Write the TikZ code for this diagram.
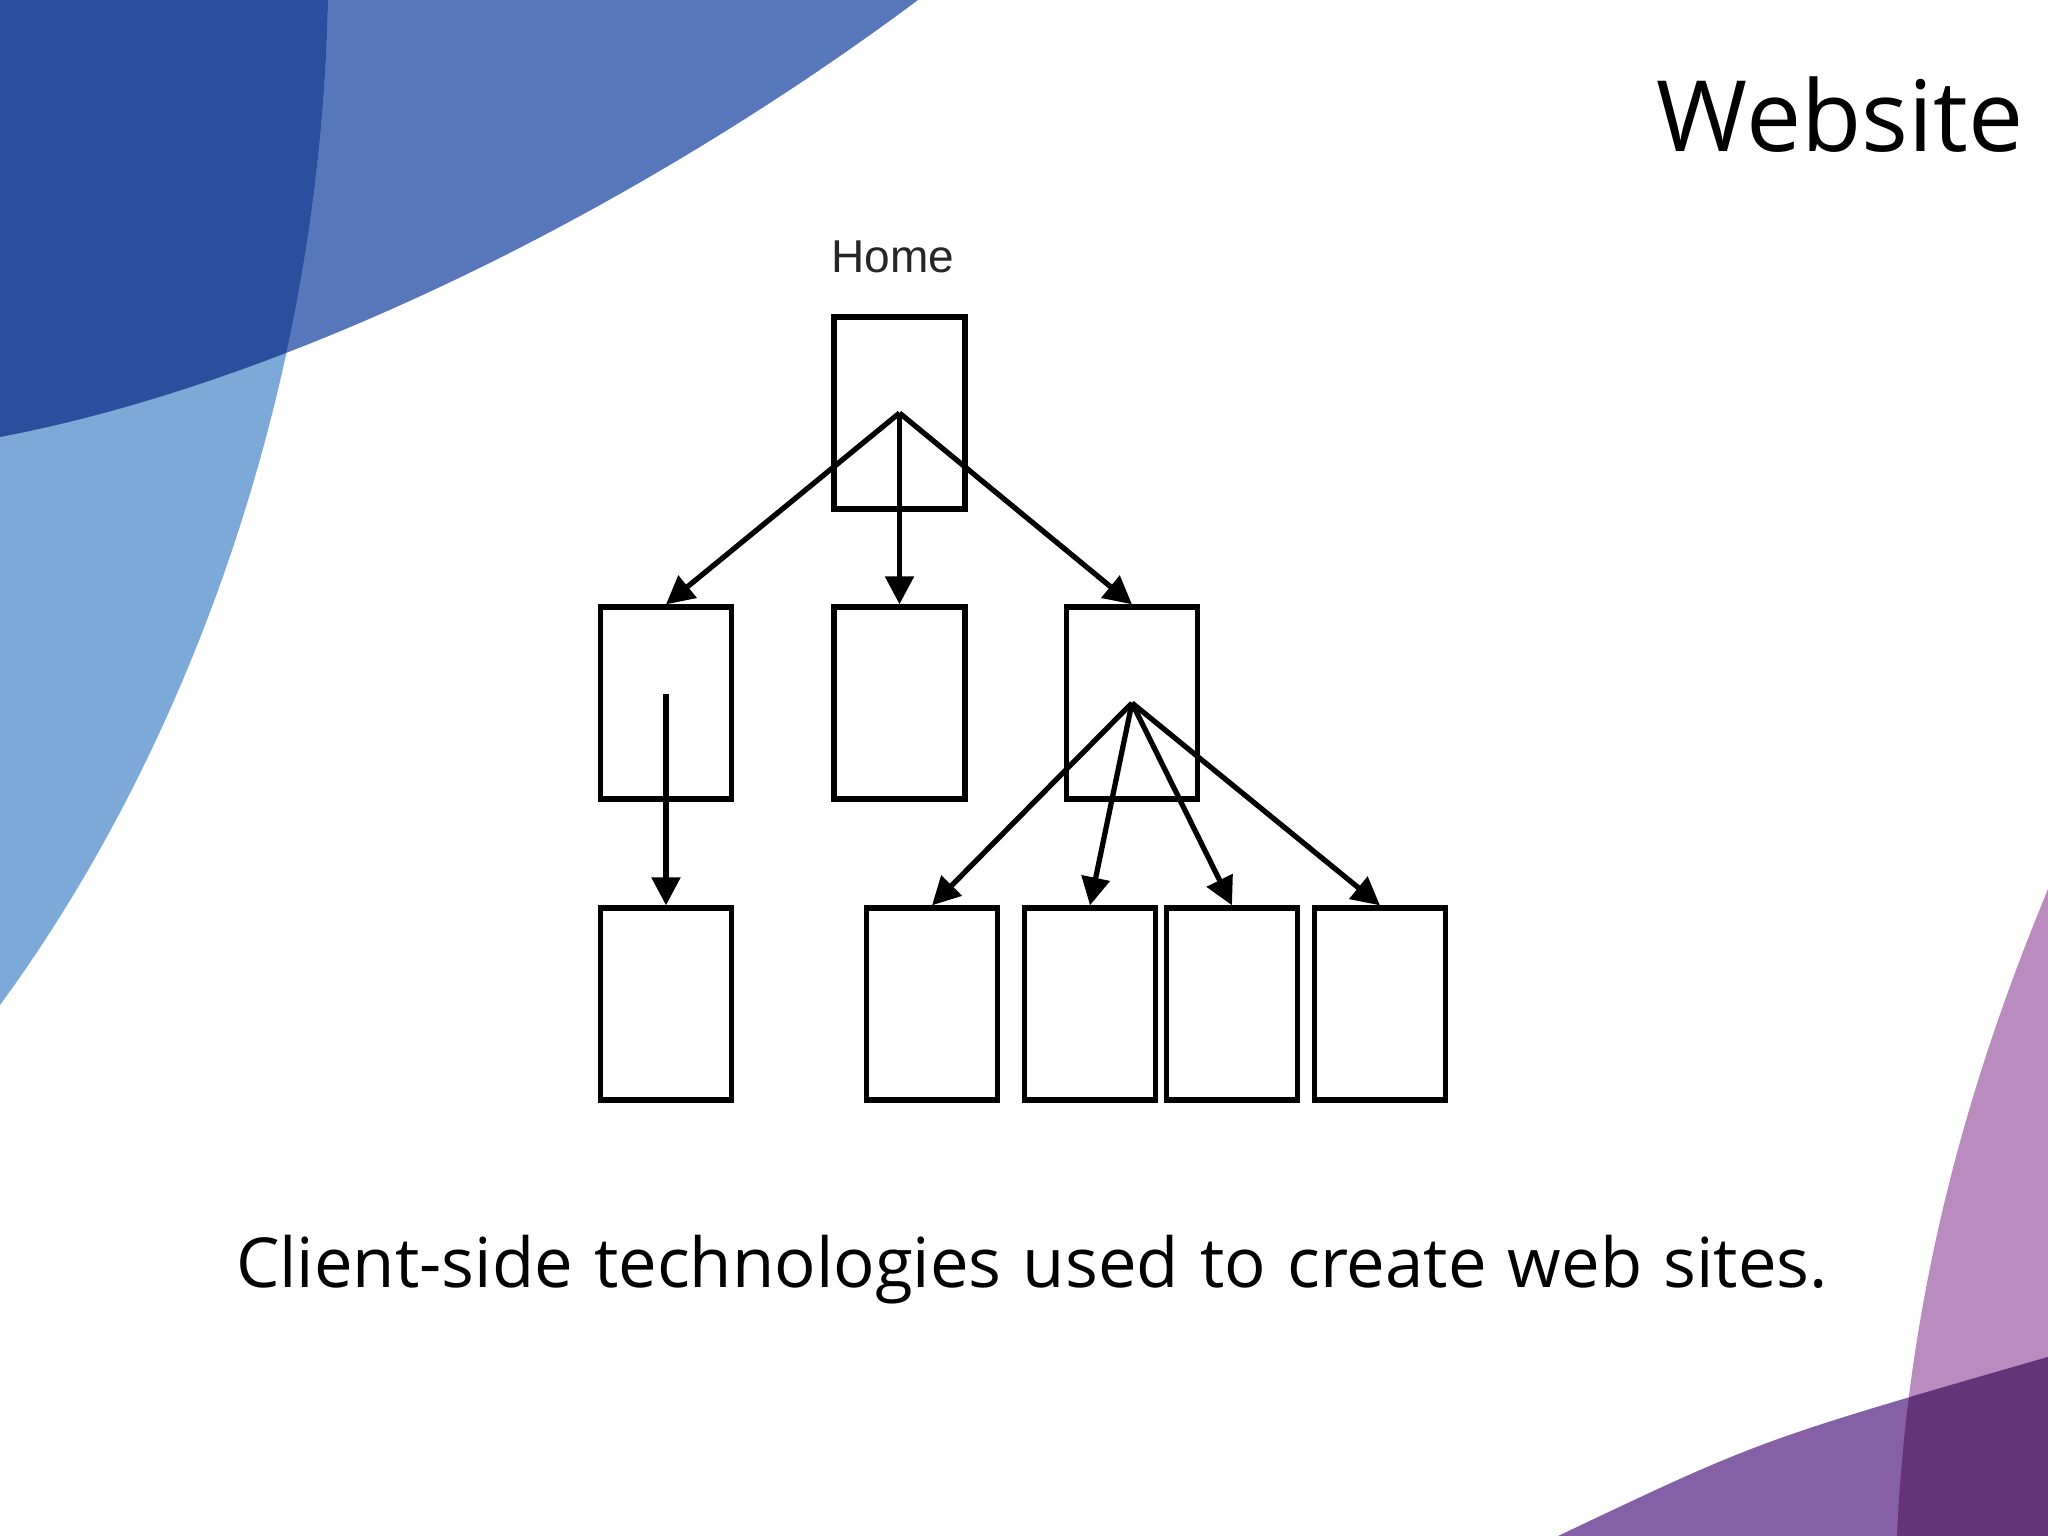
\documentclass[tikz,border=0pt]{standalone}
\usepackage{fontspec}
\setmainfont{Open Sans}
\newfontfamily\homefont{Liberation Sans}
\usetikzlibrary{arrows.meta, calc}
\definecolor{blueDark}{HTML}{2A4F9C}
\definecolor{blueMid}{HTML}{5877BA}
\definecolor{blueLight}{HTML}{7DA9D9}
\definecolor{purpleLight}{HTML}{BA8BBF}
\definecolor{purpleMid}{HTML}{8560A6}
\definecolor{purpleDark}{HTML}{623579}
\tikzset{page/.style = {draw, line width=1.5pt, minimum width=1.31cm, minimum height=1.92cm, inner sep=0pt}}
\tikzset{link/.style = {line width=1.5pt, -{Triangle[length=0.28cm, width=0.28cm]}}}

\begin{document}
\begin{tikzpicture}
	\def\rowA{-4.13}
	\def\rowB{-7.03}
	\def\rowC{-10.04}
	\def\bandTop{(0,0) -- (9.18,0) .. controls (6.5,-2) and (3,-3.8) .. (0,-4.37) -- cycle}
	\def\bandLeft{(0,0) -- (3.28,0) .. controls (3.2,-4) and (1.8,-7.6) .. (0,-10.05) -- cycle}
	\def\bandRight{(20.48,-8.89) .. controls (19.9,-10.3) and (19.1,-12.5) .. (18.97,-15.36) -- (20.48,-15.36) -- cycle}
	\def\bandBottom{(15.58,-15.36) .. controls (17.6,-14.4) .. (20.48,-13.57) -- (20.48,-15.36) -- cycle}
	
	\useasboundingbox (0,0) rectangle (20.48,-15.36);
	
	\fill[blueMid] \bandTop;
	\fill[blueLight] \bandLeft;
	\begin{scope}
		\clip \bandTop;
		\fill[blueDark] \bandLeft;
	\end{scope}
	\fill[purpleLight] \bandRight;
	\fill[purpleMid] \bandBottom;
	\begin{scope}
		\clip \bandRight;
		\fill[purpleDark] \bandBottom;
	\end{scope}
	
	\node[anchor=base east, inner sep=0pt, font=\fontsize{28}{34}\selectfont] (title) at (20.24,-1.52) {Website};
	
	\node[page] (home) at (8.995,\rowA) {};
	\node[anchor=base, font=\homefont\fontsize{13.1}{16}\selectfont, text=black!85] (homelabel) at (8.93,-2.73) {Home};
	
	\node[page] (pa) at (6.66,\rowB) {};
	\node[page] (pb) at (8.995,\rowB) {};
	\node[page] (pc) at (11.32,\rowB) {};
	
	\node[page] (qa) at (6.66,\rowC) {};
	\node[page] (qb) at (9.32,\rowC) {};
	\node[page] (qc) at (10.9,\rowC) {};
	\node[page] (qd) at (12.32,\rowC) {};
	\node[page] (qe) at (13.8,\rowC) {};
	
	\coordinate (pastart) at ($(pa.center)+(0,0.09)$);
	
	\draw[link] (home.center) -- (pa.north);
	\draw[link] (home.center) -- (pb.north);
	\draw[link] (home.center) -- (pc.north);
	\draw[link] (pastart) -- (qa.north);
	\foreach \q in {qb, qc, qd, qe}
		\draw[link] (pc.center) -- (\q.north);
	
	\node[anchor=base, font=\fontsize{19.6}{24}\selectfont] (caption) at (10.32,-12.87)
		{\makebox[15.92cm][s]{Client-side technologies used to create web sites.}};
\end{tikzpicture}
\end{document}
